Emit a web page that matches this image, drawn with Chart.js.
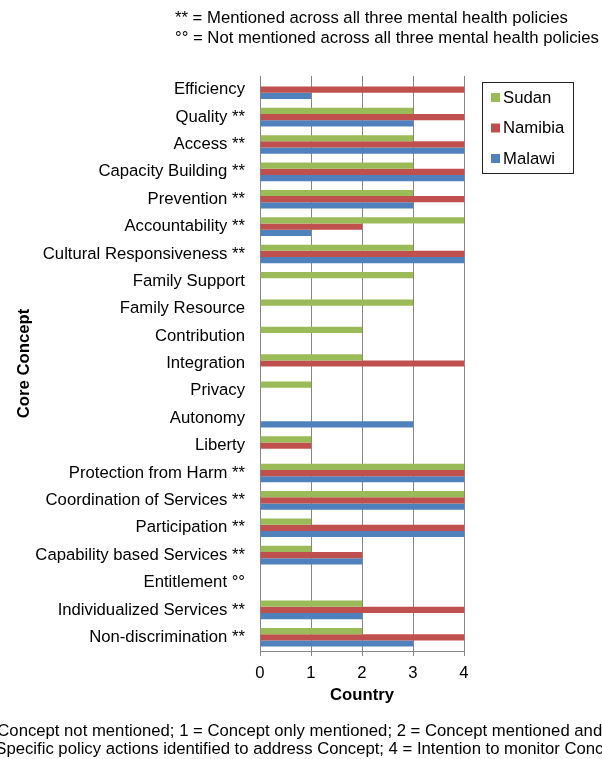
<!DOCTYPE html>
<html>
<head>
<meta charset="utf-8">
<script src="https://cdn.jsdelivr.net/npm/chart.js@4"></script>
<style>
    body { margin: 0; width: 602px; height: 759px; overflow: hidden; position: relative; background: #fff;
           font-family: "Liberation Sans", Arial, sans-serif; color: #000; }
    #wrap { position: absolute; left: 0; top: 0; width: 602px; height: 759px; }
    .note { position: absolute; font-size: 16.7px; white-space: nowrap; line-height: 19px; }
</style>
</head>
<body>
<div id="wrap"><canvas id="myChart"></canvas></div>
<div class="note" style="left:175px; top:8px;">** = Mentioned across all three mental health policies</div>
<div class="note" style="left:175px; top:28px;">°° = Not mentioned across all three mental health policies</div>
<div class="note" style="left:-31px; top:721px;">0 = Concept not mentioned; 1 = Concept only mentioned; 2 = Concept mentioned and defined</div>
<div class="note" style="left:-33px; top:739px;">3 = Specific policy actions identified to address Concept; 4 = Intention to monitor Concept</div>
<script>
const concepts = ['Efficiency', 'Quality **', 'Access **', 'Capacity Building **', 'Prevention **',
    'Accountability **', 'Cultural Responsiveness **', 'Family Support', 'Family Resource',
    'Contribution', 'Integration', 'Privacy', 'Autonomy', 'Liberty', 'Protection from Harm **',
    'Coordination of Services **', 'Participation **', 'Capability based Services **',
    'Entitlement °°', 'Individualized Services **', 'Non-discrimination **']
const sudan   = [0, 3, 3, 3, 3, 4, 3, 3, 3, 2, 2, 1, 0, 1, 4, 4, 1, 1, 0, 2, 2]
const namibia = [4, 4, 4, 4, 4, 2, 4, 0, 0, 0, 4, 0, 0, 1, 4, 4, 4, 2, 0, 4, 4]
const malawi  = [1, 3, 4, 4, 3, 1, 4, 0, 0, 0, 0, 0, 3, 0, 4, 4, 4, 2, 0, 2, 3]
const xTicks = [0, 1, 2, 3, 4]

const fontName = '"Liberation Sans", Arial, sans-serif'
const fontSize = 16.7

// boxed legend on the right, like the original
const boxLegend = {
    id: 'boxLegend',
    afterDraw: (chart) => {
        const ctx = chart.ctx
        const x = 482, y = 82, w = 91, h = 91
        ctx.save()
        ctx.strokeStyle = '#222'
        ctx.lineWidth = 1
        ctx.strokeRect(x + 0.5, y + 0.5, w, h)
        ctx.font = fontSize + 'px ' + fontName
        ctx.textBaseline = 'middle'
        chart.data.datasets.forEach((ds, i) => {
            const cy = y + 15 + i * 30.5
            ctx.fillStyle = ds.backgroundColor
            ctx.fillRect(x + 9, cy - 4, 9, 9)
            ctx.fillStyle = '#000'
            ctx.fillText(ds.label, x + 21, cy + 1)
        })
        ctx.restore()
    }
}

const config = {
    type: 'bar',
    data: {
        labels: concepts,
        datasets: [
            { label: 'Sudan', data: sudan, backgroundColor: '#9BBB59' },
            { label: 'Namibia', data: namibia, backgroundColor: '#C0504D' },
            { label: 'Malawi', data: malawi, backgroundColor: '#4F81BD' }
        ]
    },
    options: {
        indexAxis: 'y',
        responsive: true,
        maintainAspectRatio: false,
        animation: false,
        categoryPercentage: 0.68,
        barPercentage: 1,
        layout: { padding: { top: 76, right: 138, bottom: 54, left: 0 } },
        plugins: {
            legend: { display: false },
            tooltip: { enabled: false }
        },
        scales: {
            x: {
                min: 0,
                max: 4,
                afterBuildTicks: (scale) => { scale.ticks = xTicks.map(v => ({ value: v })) },
                afterFit: (scale) => { scale.height = 54 },
                grid: { color: '#868686', lineWidth: 1, tickLength: 5, drawTicks: true },
                border: { color: '#868686' },
                ticks: { color: '#000', font: { family: fontName, size: fontSize }, padding: 7 },
                title: { display: true, text: 'Country', color: '#000',
                         font: { family: fontName, size: fontSize, weight: 'bold' }, padding: { top: 0, bottom: 0 } }
            },
            y: {
                afterFit: (scale) => { scale.width = 260 },
                grid: { display: false, drawTicks: false },
                border: { color: '#868686' },
                ticks: { color: '#000', font: { family: fontName, size: fontSize }, padding: 15, autoSkip: false },
                title: { display: true, text: 'Core Concept', color: '#000',
                         font: { family: fontName, size: fontSize, weight: 'bold' }, padding: { top: 14, bottom: 4 } }
            }
        }
    },
    plugins: [boxLegend]
}

let chartCanvas = new Chart(document.querySelector('#myChart'), config)
</script>
</body>
</html>
